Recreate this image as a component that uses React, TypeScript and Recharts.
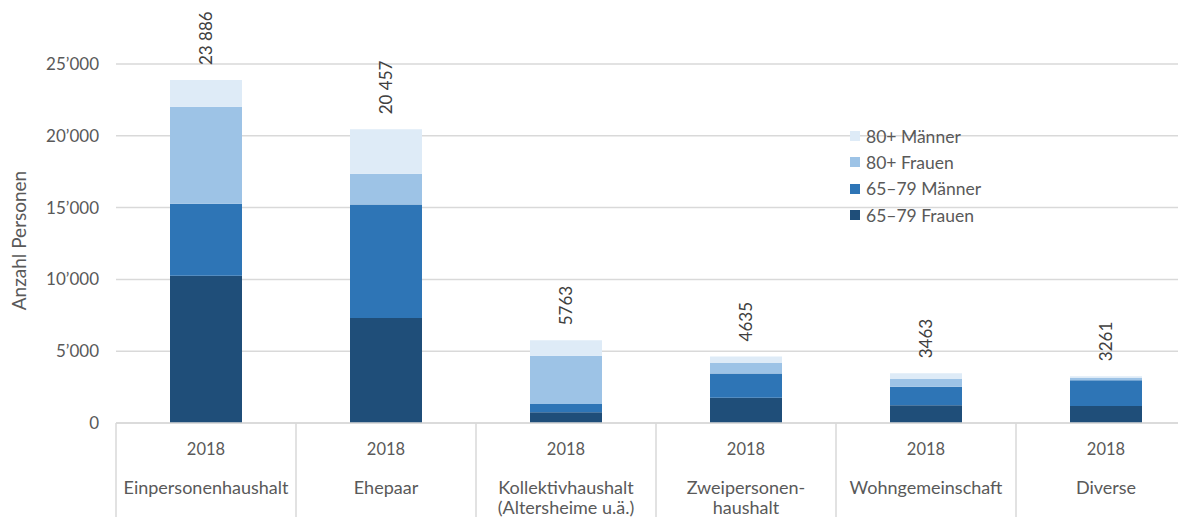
import { BarChart, Bar, XAxis, YAxis, CartesianGrid, Legend, LabelList } from 'recharts';

const categories = [
  'Einpersonenhaushalt',
  'Ehepaar',
  'Kollektivhaushalt\n(Altersheime u.ä.)',
  'Zweipersonen-\nhaushalt',
  'Wohngemeinschaft',
  'Diverse',
];
const year = '2018';

// stacked from bottom to top
const frauen6579 = [10260, 7310, 740, 1760, 1230, 1180];
const maenner6579 = [5010, 7900, 585, 1695, 1300, 1790];
const frauen80 = [6760, 2150, 3360, 725, 530, 170];
const maenner80 = [1856, 3097, 1078, 455, 403, 121];
const totals = [23886, 20457, 5763, 4635, 3463, 3261];

const yTicks = [0, 5000, 10000, 15000, 20000, 25000];

const series = [
  { key: 'f6579', name: '65–79 Frauen', color: '#1f4e79' },
  { key: 'm6579', name: '65–79 Männer', color: '#2e75b6' },
  { key: 'f80', name: '80+ Frauen', color: '#9dc3e6' },
  { key: 'm80', name: '80+ Männer', color: '#deebf7' },
];

const data = categories.map((cat, i) => ({
  cat,
  f6579: frauen6579[i],
  m6579: maenner6579[i],
  f80: frauen80[i],
  m80: maenner80[i],
  total: totals[i],
}));

const FONT = 'Lato, "Open Sans", sans-serif';
const TEXT = '#595959';
const GRID = '#d9d9d9';
const BAND = 180;
const AXIS_H = 94;

const fmtTick = (v: number) => {
  if (v === 0) return '0';
  const s = String(v);
  return s.slice(0, s.length - 3) + '\u2019' + s.slice(-3);
};

const fmtTotal = (v: number) => {
  const s = String(v);
  return v >= 10000 ? s.slice(0, s.length - 3) + ' ' + s.slice(-3) : s;
};

function CategoryTick(props: any) {
  const { x, y, payload, index } = props;
  const lines = String(payload.value).split('\n');
  const left = x - BAND / 2;
  return (
    <g>
      <line x1={left} x2={left} y1={y} y2={y + AXIS_H} stroke={GRID} strokeWidth={1.5} />
      {index === categories.length - 1 && (
        <line x1={left + BAND} x2={left + BAND} y1={y} y2={y + AXIS_H} stroke={GRID} strokeWidth={1.5} />
      )}
      <text x={x} y={y + 26} textAnchor="middle" dominantBaseline="central" fill={TEXT} fontSize={16.5} fontFamily={FONT}>
        {year}
      </text>
      {lines.map((l, i) => (
        <text key={i} x={x} y={y + 64 + i * 20} textAnchor="middle" dominantBaseline="central" fill={TEXT} fontSize={18} fontFamily={FONT}>
          {l}
        </text>
      ))}
    </g>
  );
}

function TotalLabel(props: any) {
  const { x, y, width, value } = props;
  const cx = Number(x) + Number(width) / 2;
  const ty = Number(y) - 15;
  return (
    <text
      x={cx}
      y={ty}
      transform={`rotate(-90 ${cx} ${ty})`}
      textAnchor="start"
      dominantBaseline="central"
      fill="#404040"
      fontSize={17}
      fontFamily={FONT}
    >
      {fmtTotal(Number(value))}
    </text>
  );
}

function YTitle(props: any) {
  const vb = props.viewBox || {};
  const cx = 10;
  const cy = (vb.y ?? 56) + (vb.height ?? 359) / 2 - 3;
  return (
    <text
      x={cx}
      y={cy}
      transform={`rotate(-90 ${cx} ${cy})`}
      textAnchor="middle"
      dominantBaseline="central"
      fill={TEXT}
      fontSize={19}
      fontFamily={FONT}
    >
      Anzahl Personen
    </text>
  );
}

function LegendBox() {
  return (
    <div style={{ fontFamily: FONT, fontSize: 17.5, color: TEXT }}>
      {[...series].reverse().map((s) => (
        <div key={s.key} style={{ display: 'flex', alignItems: 'center', height: 26.3, whiteSpace: 'nowrap' }}>
          <span style={{ display: 'inline-block', width: 10, height: 10, background: s.color, marginRight: 6 }} />
          <span>{s.name}</span>
        </div>
      ))}
    </div>
  );
}

export default function App() {
  return (
    <div style={{ width: 1178, height: 509, overflow: 'hidden', fontFamily: FONT }}>
      <BarChart width={1188} height={509} data={data} margin={{ top: 56, right: 0, bottom: 0, left: 0 }}>
        <CartesianGrid vertical={false} stroke={GRID} strokeWidth={1.5} />
        <XAxis
          dataKey="cat"
          interval={0}
          height={AXIS_H}
          tickLine={false}
          tickSize={0}
          tickMargin={0}
          axisLine={{ stroke: GRID, strokeWidth: 1.5 }}
          tick={<CategoryTick />}
        />
        <YAxis
          width={108}
          domain={[0, 25000]}
          ticks={yTicks}
          tickFormatter={fmtTick}
          axisLine={false}
          tickLine={false}
          tickSize={0}
          tickMargin={17}
          tick={{ fill: TEXT, fontSize: 17, fontFamily: FONT }}
          label={{ content: YTitle }}
        />
        <Legend
          layout="vertical"
          align="center"
          verticalAlign="middle"
          content={LegendBox}
          wrapperStyle={{ left: 842, top: 115, width: 'auto', height: 'auto', bottom: 'auto' }}
        />
        {series.map((s, i) => (
          <Bar key={s.key} dataKey={s.key} name={s.name} stackId="a" fill={s.color} barSize={72} isAnimationActive={false}>
            {i === series.length - 1 && <LabelList dataKey="total" content={TotalLabel} />}
          </Bar>
        ))}
      </BarChart>
    </div>
  );
}
